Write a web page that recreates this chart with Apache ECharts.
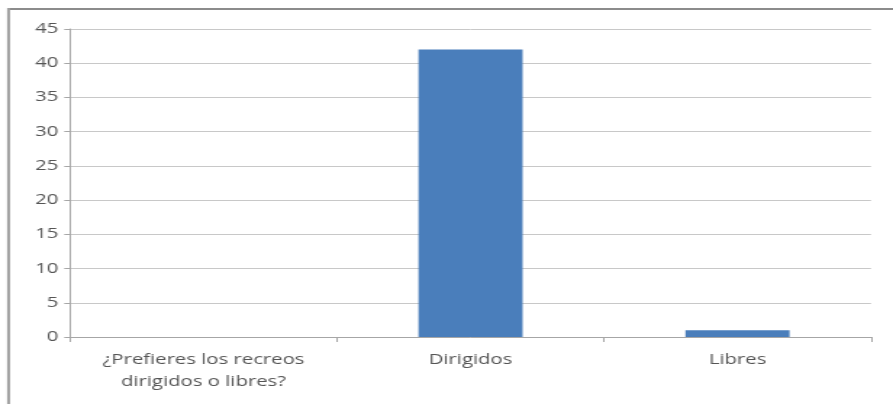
<!DOCTYPE html>
<html><head><meta charset="utf-8">
<script src="https://cdn.jsdelivr.net/npm/echarts@6/dist/echarts.min.js"></script>
<style>html,body{margin:0;padding:0;background:#fff;overflow:hidden}
#wrap{width:893px;height:404px;overflow:hidden}
#c{width:616px;height:404px;transform:scaleX(1.4497);transform-origin:0 0}</style>
</head><body><div id="wrap"><div id="c"></div></div>
<script>
const categories = ['¿Prefieres los recreos\ndirigidos o libres?', 'Dirigidos', 'Libres'];
const values = [0, 42, 1];
const yTicks = [0, 5, 10, 15, 20, 25, 30, 35, 40, 45];

const chart = echarts.init(document.getElementById('c'), null, {renderer: 'canvas'});
chart.setOption({
  animation: false,
  backgroundColor: '#fff',
  textStyle: {fontFamily: 'Open Sans, Liberation Sans, sans-serif'},
  graphic: [
    {type: 'line', shape: {x1: 5, y1: 9, x2: 616, y2: 9},
     style: {stroke: '#8c8c8c', lineWidth: 2}, silent: true},
    {type: 'line', shape: {x1: 5.9, y1: 8, x2: 5.9, y2: 404},
     style: {stroke: '#a0a0a0', lineWidth: 2}, silent: true}
  ],
  grid: {left: 48.3, right: 15.2, top: 29, bottom: 67, containLabel: false},
  xAxis: {
    type: 'category', data: categories,
    axisLine: {lineStyle: {color: '#a6a6a6'}},
    axisTick: {show: true, length: 5, lineStyle: {color: '#a6a6a6'}},
    axisLabel: {color: '#555', fontSize: 14, margin: 12, lineHeight: 22, interval: 0}
  },
  yAxis: {
    type: 'value', min: yTicks[0], max: yTicks[yTicks.length - 1], interval: 5,
    axisLine: {show: true, lineStyle: {color: '#a6a6a6'}},
    axisTick: {show: true, length: 4, lineStyle: {color: '#a6a6a6'}},
    splitLine: {lineStyle: {color: '#c8c8c8'}},
    axisLabel: {color: '#555', fontSize: 14, margin: 8}
  },
  series: [{
    type: 'bar', data: values, barWidth: '39%',
    itemStyle: {color: '#4a7ebb'}
  }]
});
</script></body></html>
